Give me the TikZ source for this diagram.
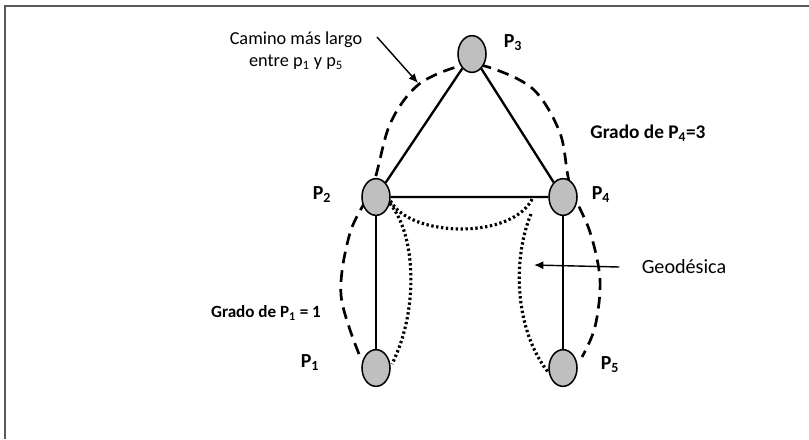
\documentclass[tikz,border=0pt]{standalone}
\usepackage{fontspec}
\setmainfont{Carlito}
\usetikzlibrary{arrows.meta,shapes.geometric}

\begin{document}
\begin{tikzpicture}[x=0.03cm,y=-0.03cm,>={Latex[length=8pt,width=7pt]}]
  \tikzstyle{vertex}=[draw,ellipse,fill=gray!50,line width=1.3pt,minimum width=0.84cm,minimum height=1.1cm,inner sep=0pt]
  \tikzstyle{edge}=[line width=2pt]
  \tikzstyle{lbl}=[font=\fontsize{17}{19}\selectfont\bfseries,inner sep=0pt]
  \tikzstyle{note}=[font=\fontsize{15.6}{18.8}\selectfont,align=center,inner sep=0pt]
  \tikzstyle{walk}=[line width=2.3pt,dash pattern=on 10pt off 6pt]
  \tikzstyle{geodot}=[line width=2.7pt,dash pattern=on 2pt off 2.2pt]
  \useasboundingbox (0,0) rectangle (809,439);
  % marco
  \draw[gray!70!black,line width=1.4pt] (5,439) -- (5,6) -- (809,6);
  % camino mas largo entre p1 y p5
  \draw[walk] plot[smooth,tension=0.55] coordinates {(359,354) (341,295) (350,233) (373,185) (390,124) (418,85) (460,66) (488,67) (533,89) (560,133) (570,185) (590,232) (600,280) (595,327) (582,357)};
  % vertices
  \node[vertex] (p3) at (472,54) {};
  \node[vertex] (p2) at (376,197) {};
  \node[vertex] (p4) at (563,197) {};
  \node[vertex] (p1) at (376,368) {};
  \node[vertex] (p5) at (563,368) {};
  \draw[edge] (p2) -- (p3) -- (p4) -- (p2);
  \draw[edge] (p2) -- (p1);
  \draw[edge] (p4) -- (p5);
  % geodesicas
  \coordinate (g4) at (533,197);
  \coordinate (g1) at (392,364);
  \coordinate (g45) at (531,214);
  \coordinate (g5) at (548,372);
  \draw[geodot] (p2.-15) .. controls (410,238) and (515,240) .. (g4);
  \draw[geodot] (p2.-25) .. controls (416,235) and (419,310) .. (g1);
  \draw[geodot] (g45) .. controls (512,260) and (515,330) .. (g5);
  % etiquetas
  \node[lbl] (lp3) at (513,43) {P\textsubscript{3}};
  \node[lbl] (lp2) at (322,195) {P\textsubscript{2}};
  \node[lbl] (lp4) at (601,195) {P\textsubscript{4}};
  \node[lbl] (lp1) at (310,363) {P\textsubscript{1}};
  \node[lbl] (lp5) at (610,365) {P\textsubscript{5}};
  \node[note] (camino) at (296,51) {Camino más largo\\entre p\textsubscript{1} y p\textsubscript{5}};
  \node[lbl,font=\fontsize{16.5}{19}\selectfont\bfseries] (gradop4) at (648,133) {Grado de P\textsubscript{4}=3};
  \node[lbl,font=\fontsize{14.6}{17}\selectfont\bfseries] (gradop1) at (266,313) {Grado de P\textsubscript{1} = 1};
  \node[note,font=\fontsize{17.2}{20}\selectfont] (geo) at (684,267) {Geodésica};
  \coordinate (camtip) at (418,83);
  \coordinate (camtail) at (377,37);
  \coordinate (geotip) at (534,265);
  \draw[->,line width=1.2pt] (camtail) -- (camtip);
  \draw[->,line width=1.2pt] ([xshift=-19pt]geo.west) -- (geotip);
\end{tikzpicture}
\end{document}
